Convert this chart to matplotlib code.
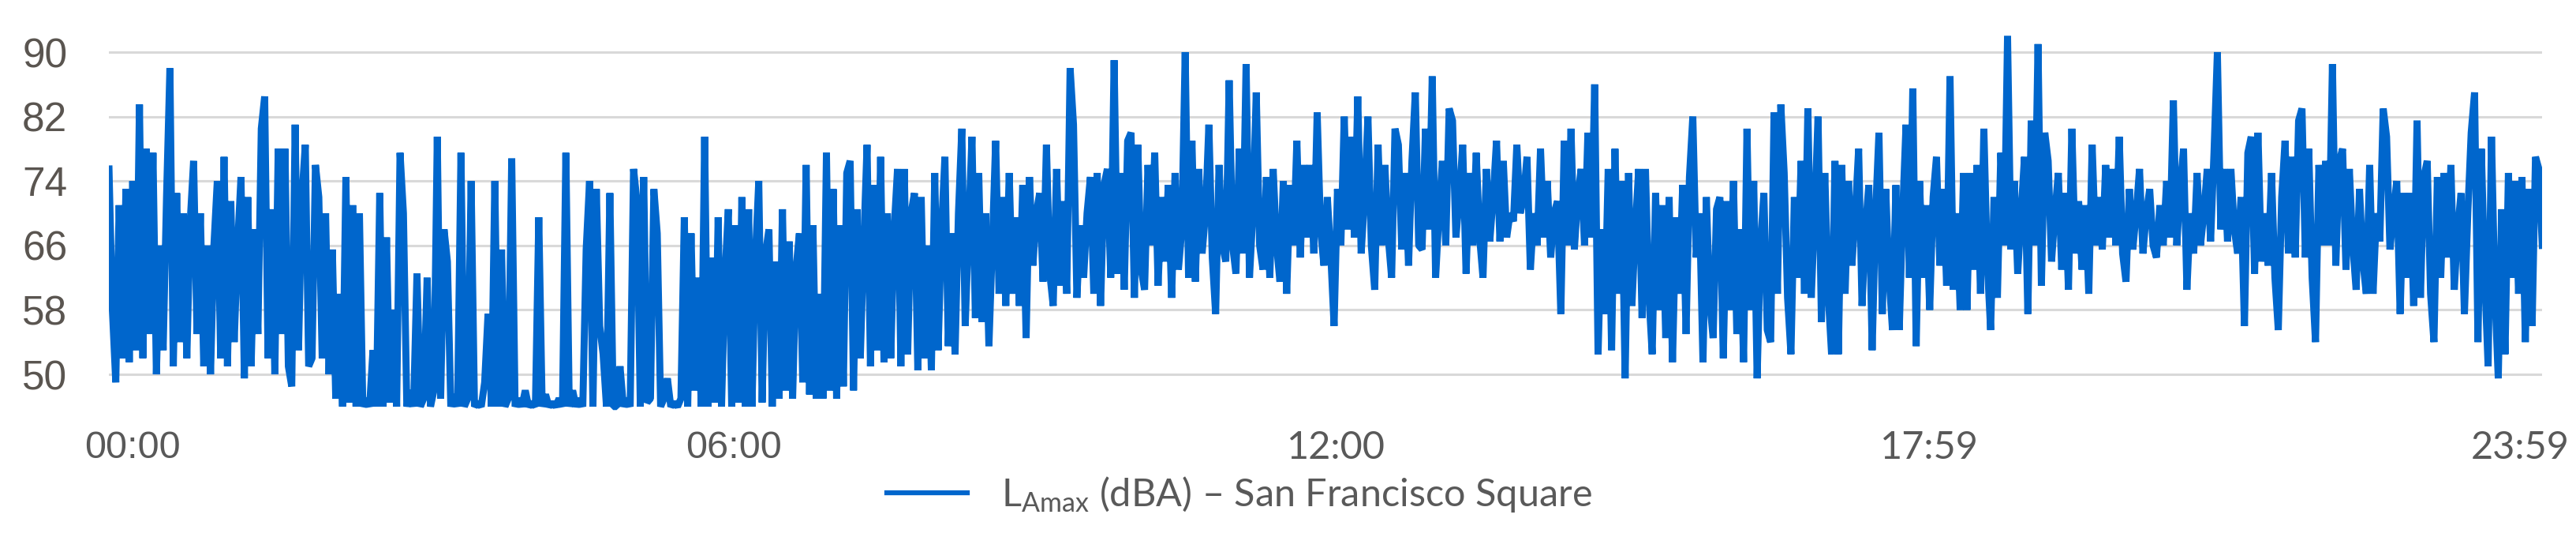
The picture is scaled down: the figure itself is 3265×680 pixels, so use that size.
import numpy as np
import matplotlib
matplotlib.use('Agg')
from matplotlib import pyplot as plt
from matplotlib.transforms import ScaledTranslation, blended_transform_factory

# L_Amax (dBA), one value every 2 minutes, one row per hour
night = [
    75.5, 58, 49, 71, 52, 73, 51.5, 74, 53, 83.5, 52, 78, 55, 77.5, 50, 66, 53, 72, 88, 51, 72.5, 54, 70, 52, 69, 76.5, 55, 70, 51, 66,
    50, 66, 74, 52, 77, 51, 71.5, 54, 66, 74.5, 49.5, 72, 51, 68, 55, 80.5, 84.5, 52, 70.5, 50, 78, 55, 78, 51, 48.5, 81, 53, 72, 78.5, 51,
    52, 76, 72, 52, 70, 50, 65.5, 47, 60, 46, 74.5, 46.5, 71, 46, 70, 46, 47, 46, 53, 46, 72.5, 46, 67, 46.5, 58, 46, 77.5, 70, 46, 48,
    46, 62.5, 46, 47, 62, 46, 48, 79.5, 47, 68, 64, 46, 47.5, 46, 77.5, 46, 47, 74, 46, 46.5, 46, 49, 57.5, 46, 74, 46, 65.5, 46, 47, 76.8,
    46, 47, 46, 48, 46, 46.5, 46, 69.5, 46, 47.5, 46, 46.5, 46, 47, 46, 77.5, 46, 48, 46, 47, 46, 65.5, 74, 46, 73, 56, 52.5, 46, 72.5, 46,
    46, 51, 46, 47, 46, 75.5, 71.5, 46, 74.5, 46.5, 47, 73, 67.5, 46, 47, 49.5, 46, 46.5, 46, 47, 69.5, 46, 67.5, 48, 62, 46, 79.5, 46, 64.5, 46.5,
]
morning = [
    69.5, 46, 62, 70.5, 46, 68.5, 46.5, 72, 46, 70.5, 46, 64.5, 74, 46.5, 65, 68, 46, 64, 47, 70.5, 48, 66.5, 47, 63, 67.5, 49, 76, 47.5, 68.5, 47,
    60, 47, 77.5, 48, 73, 47, 68.5, 48.5, 75, 76.5, 48, 70.5, 52, 66, 78.5, 51, 73.5, 53, 77, 51.5, 70, 52, 68, 75.5, 51, 75.5, 52.5, 70, 72.5, 50.5,
    72, 52, 66, 50.5, 75, 53, 68, 77, 53.5, 67.5, 52.5, 70, 80.5, 56, 68, 79.5, 57, 75, 56.5, 70, 53.5, 66, 79, 60, 72, 58.5, 75, 60, 69.5, 58.5,
    73.5, 54.5, 74.5, 63.5, 70, 72.5, 61.5, 78.5, 62.5, 58.5, 75.5, 61, 71.5, 60, 88, 81, 59.5, 68.5, 62, 70, 74.5, 60, 75, 58.5, 73.5, 75.5, 62, 89, 62.5, 75,
    60.5, 79, 80, 59.5, 78.5, 63, 60.5, 76, 66, 77.5, 61, 72, 64, 73.5, 59.5, 75, 63, 68, 90, 62, 79, 61.5, 75.5, 65, 70, 81, 64.5, 57.5, 76, 66,
    64, 86.5, 66, 62.5, 78, 65, 88.5, 62, 70, 85, 66, 63, 74.5, 62, 75.5, 66, 61.5, 74, 60, 73.5, 66, 79, 64.5, 76, 67, 76, 65, 82.5, 68, 63.5,
]
afternoon = [
    72, 65, 56, 73, 66, 82, 68, 79.5, 67, 84.5, 65, 72, 82, 66, 60.5, 78.5, 66, 76, 67, 62, 80.5, 78.5, 65.5, 75, 63.5, 76.5, 85, 66, 65.5, 80.5,
    68, 87, 62, 70, 76.5, 66, 83, 81.5, 67, 72, 78.5, 62.5, 75, 66, 77.5, 67, 62, 75.5, 66.5, 72, 79, 66.5, 76.5, 67, 70, 69, 78.5, 70, 72, 77,
    63, 70, 66, 78, 67, 74, 64.5, 70, 71.5, 57.5, 79, 66, 80.5, 65.5, 72, 75.5, 66, 80, 67, 86, 52.5, 68, 57.5, 75.5, 53, 78, 60, 74, 49.5, 75,
    58.5, 68, 75.5, 57, 75.5, 60, 52.5, 72.5, 58, 71, 54.5, 72, 51.5, 69.5, 60, 73.5, 55, 74.5, 82, 64.5, 70, 51.5, 72, 59, 54.5, 70.5, 72, 52, 71.5, 58,
    74, 55, 68, 51.5, 80.5, 58, 74, 49.5, 66, 72.5, 55.5, 54, 82.5, 60, 83.5, 75, 59.5, 52.5, 72, 62, 76.5, 60, 83, 59.5, 70, 82, 56.5, 75, 60, 52.5,
    76.5, 52.5, 76, 60, 74, 63.5, 70, 78, 58.5, 68, 73.5, 53, 70, 80, 57.5, 73, 62, 55.5, 73.5, 55.5, 70, 81, 62, 85.5, 53.5, 74, 62, 71, 58, 72,
]
evening = [
    77, 63.5, 73, 61, 87, 60.5, 70, 58, 75, 58, 75, 63, 76, 60, 80.5, 64, 55.5, 72, 59.5, 77.5, 66, 92, 65.5, 74, 62.5, 70, 77, 57.5, 81.5, 66,
    91, 61, 80, 76.5, 64, 70, 75, 63, 72.5, 60.5, 80.5, 65, 71.5, 63, 71, 60, 78.5, 66, 72, 65.5, 76, 67, 75.5, 66, 79.5, 65, 61.5, 73, 65.5, 70,
    75.5, 65, 70, 73, 66, 64.5, 71, 66, 74, 67, 84, 66, 73, 78, 60.5, 70, 65, 75, 66, 70, 75.5, 66.5, 77.5, 90, 68, 75.5, 66.5, 75.5, 68, 65,
    72, 56, 77.5, 79.5, 62.5, 80, 64, 70, 63.5, 75, 62, 55.5, 72, 79, 65, 77, 64.5, 81.5, 83, 64.5, 78, 62, 54, 76, 66, 76.5, 66, 88.5, 63.5, 76.5,
    78, 63, 75.5, 66, 60.5, 73, 64, 60, 76, 60, 70, 66.5, 83, 79.5, 65.5, 70, 74, 57.5, 72.5, 62, 72.5, 58.5, 81.5, 59.5, 74.5, 76.5, 60, 54, 74.5, 62,
    75, 64.5, 76, 60.5, 68, 72.5, 57.5, 70, 80, 85, 54, 78, 62, 51, 79.5, 60, 49.5, 70.5, 52.5, 75, 62, 74, 60, 74.5, 54, 73, 56, 77, 75.5, 66,
]

tick_times = [0, 360, 720, 1079, 1439]
tick_text = ['00:00', '06:00', '12:00', '17:59', '23:59']
y_ticks = [50, 58, 66, 74, 82, 90]
series_name = r'L$_{\mathrm{Amax}}$ (dBA) – San Francisco Square'

lamax = np.concatenate([night, morning, afternoon, evening])
minutes = np.arange(len(lamax)) * 2

plt.rcParams['mathtext.fontset'] = 'custom'
plt.rcParams['mathtext.rm'] = 'Lato'
plt.rcParams['mathtext.it'] = 'Lato'

fig = plt.figure(figsize=(32.66, 6.8), dpi=100)
ax = fig.add_axes([0.0423, 0.2129, 0.9443, 0.735])

ax.plot(minutes, lamax, color='#0066CC', lw=6.4, solid_joinstyle='bevel',
        label=series_name)

ax.set_xlim(0, minutes[-1])
ax.set_ylim(44, 93)
ax.set_yticks(y_ticks)
ax.yaxis.grid(True, color='#d9d9d9', lw=2.2)
ax.set_axisbelow(True)
for s in ax.spines.values():
    s.set_visible(False)
ax.tick_params(axis='y', length=0, pad=38, labelsize=37, labelcolor='#5a5550')
for lbl in ax.get_yticklabels():
    lbl.set_fontfamily('Liberation Sans')

# x labels as text, nudged like the original
ax.set_xticks([])
nudge_px = [30, 20, 11, -7, -30]
fonts = ['Liberation Sans', 'Liberation Sans', 'Lato', 'Lato', 'Lato']
base = blended_transform_factory(ax.transData, ax.transAxes)
for t, txt, dx, fam in zip(tick_times, tick_text, nudge_px, fonts):
    tr = base + ScaledTranslation(dx / 100, 0, fig.dpi_scale_trans)
    ax.text(t, -0.02, txt, transform=tr, ha='center', va='top',
            fontsize=35, family=fam, color='#595959', clip_on=False)

leg = fig.legend(loc='center', bbox_to_anchor=(0.481, 0.08), frameon=False,
                 prop={'family': 'Lato', 'size': 35}, handlelength=2.1,
                 handletextpad=0.9)
for t in leg.get_texts():
    t.set_color('#595959')
for h in leg.get_lines():
    h.set_linewidth(4.5)

fig.savefig('out.png', dpi=100, facecolor='white')
